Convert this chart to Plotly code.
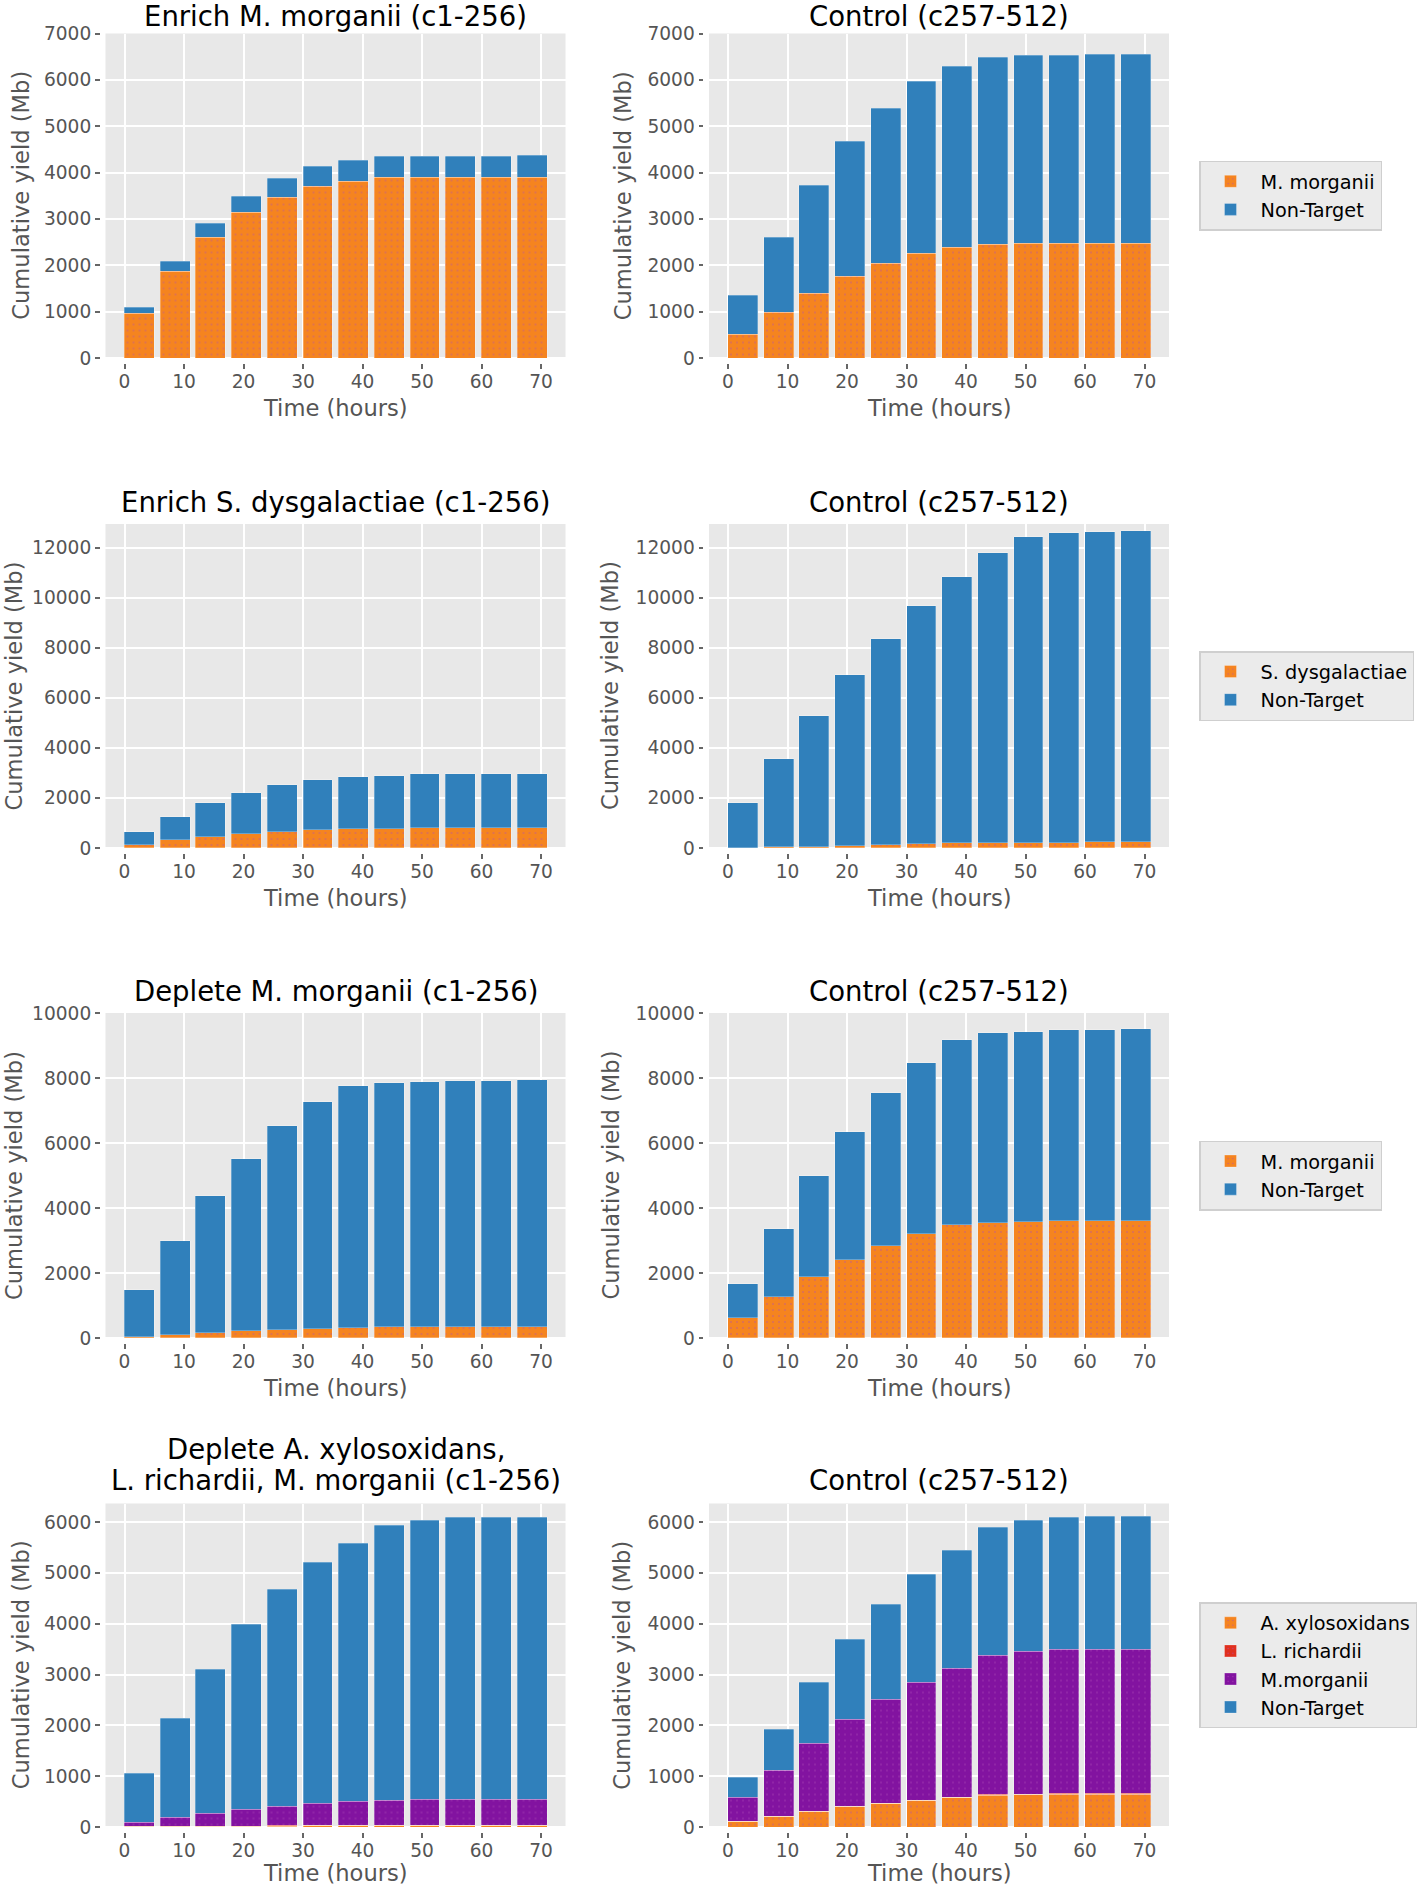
import plotly.graph_objects as go

W, H = 1418, 1887

# ---------------- data ----------------
hours = [0, 6, 12, 18, 24, 30, 36, 42, 48, 54, 60, 66]
x_ticks = [0, 10, 20, 30, 40, 50, 60, 70]

# Row 1: Enrich M. morganii (c1-256) / Control (c257-512)
enrich_mm_target = [970, 1870, 2610, 3140, 3460, 3710, 3810, 3890, 3890, 3890, 3890, 3900]
enrich_mm_nontarget = [110, 210, 300, 350, 420, 430, 440, 450, 460, 465, 465, 460]
enrich_mm_ctrl_target = [500, 980, 1400, 1760, 2030, 2245, 2375, 2450, 2465, 2470, 2480, 2480]
enrich_mm_ctrl_nontarget = [855, 1630, 2330, 2905, 3360, 3720, 3920, 4035, 4055, 4060, 4065, 4075]

# Row 2: Enrich S. dysgalactiae (c1-256) / Control (c257-512)
enrich_sd_target = [135, 310, 455, 575, 655, 710, 750, 775, 790, 790, 790, 790]
enrich_sd_nontarget = [495, 920, 1325, 1620, 1875, 1990, 2075, 2100, 2155, 2180, 2180, 2180]
enrich_sd_ctrl_target = [10, 25, 50, 90, 125, 155, 185, 200, 210, 220, 225, 230]
enrich_sd_ctrl_nontarget = [1790, 3520, 5215, 6805, 8220, 9510, 10640, 11575, 12220, 12370, 12405, 12460]

# Row 3: Deplete M. morganii (c1-256) / Control (c257-512)
deplete_mm_target = [30, 80, 155, 205, 240, 290, 310, 330, 330, 330, 330, 330]
deplete_mm_nontarget = [1460, 2905, 4205, 5300, 6270, 6965, 7435, 7520, 7560, 7570, 7590, 7600]
deplete_mm_ctrl_target = [605, 1265, 1870, 2395, 2840, 3200, 3475, 3550, 3580, 3600, 3610, 3610]
deplete_mm_ctrl_nontarget = [1070, 2080, 3100, 3940, 4700, 5265, 5690, 5820, 5845, 5865, 5875, 5895]

# Row 4: Deplete A. xylosoxidans, L. richardii, M. morganii (c1-256) / Control (c257-512)
deplete3_axyl = [5, 8, 10, 12, 18, 22, 25, 28, 28, 28, 28, 28]
deplete3_lrich = [2, 3, 4, 5, 6, 7, 8, 9, 9, 9, 9, 9]
deplete3_mmorg = [78, 172, 254, 330, 382, 429, 464, 487, 500, 500, 500, 506]
deplete3_nontarget = [962, 1944, 2828, 3632, 4260, 4751, 5085, 5418, 5497, 5543, 5556, 5556]
deplete3_ctrl_axyl = [105, 203, 302, 394, 459, 518, 577, 623, 636, 643, 643, 643]
deplete3_ctrl_lrich = [3, 5, 6, 8, 9, 10, 11, 12, 12, 12, 12, 12]
deplete3_ctrl_mmorg = [463, 907, 1332, 1717, 2039, 2313, 2529, 2744, 2803, 2829, 2842, 2842]
deplete3_ctrl_nontarget = [394, 808, 1201, 1575, 1870, 2126, 2329, 2520, 2579, 2605, 2605, 2618]

left_titles = ["Enrich M. morganii (c1-256)", "Enrich S. dysgalactiae (c1-256)",
               "Deplete M. morganii (c1-256)",
               ["Deplete A. xylosoxidans,", "L. richardii, M. morganii (c1-256)"]]
right_title = "Control (c257-512)"
x_label = "Time (hours)"
y_label = "Cumulative yield (Mb)"

y_max = [7000, 12950, 10000, 6365]
y_ticks = [list(range(0, 7001, 1000)), list(range(0, 12001, 2000)),
           list(range(0, 10001, 2000)), list(range(0, 6001, 1000))]

# ---------------- style ----------------
FONT = "DejaVu Sans"
C_ORANGE = "#f5841f"
C_BLUE = "#3080bb"
C_PURPLE = "#8213a0"
C_RED = "#e0301e"
BG = "#e8e8e8"
GRAY_TXT = "#555555"
TITLE_SIZE = 27.5

col_px = [(105.5, 565.5), (709.0, 1169.0)]
row_px = [(33.5, 358.0), (524.0, 848.0), (1013.0, 1338.0), (1503.5, 1827.0)]
X_LO, X_HI = -3.2, 74.1
GAP = 5.0

rows = [
    [[("M. morganii", enrich_mm_target, C_ORANGE, True),
      ("Non-Target", enrich_mm_nontarget, C_BLUE, False)],
     [("M. morganii", enrich_mm_ctrl_target, C_ORANGE, True),
      ("Non-Target", enrich_mm_ctrl_nontarget, C_BLUE, False)]],
    [[("S. dysgalactiae", enrich_sd_target, C_ORANGE, True),
      ("Non-Target", enrich_sd_nontarget, C_BLUE, False)],
     [("S. dysgalactiae", enrich_sd_ctrl_target, C_ORANGE, True),
      ("Non-Target", enrich_sd_ctrl_nontarget, C_BLUE, False)]],
    [[("M. morganii", deplete_mm_target, C_ORANGE, True),
      ("Non-Target", deplete_mm_nontarget, C_BLUE, False)],
     [("M. morganii", deplete_mm_ctrl_target, C_ORANGE, True),
      ("Non-Target", deplete_mm_ctrl_nontarget, C_BLUE, False)]],
    [[("A. xylosoxidans", deplete3_axyl, C_ORANGE, True),
      ("L. richardii", deplete3_lrich, C_RED, True),
      ("M.morganii", deplete3_mmorg, C_PURPLE, True),
      ("Non-Target", deplete3_nontarget, C_BLUE, False)],
     [("A. xylosoxidans", deplete3_ctrl_axyl, C_ORANGE, True),
      ("L. richardii", deplete3_ctrl_lrich, C_RED, True),
      ("M.morganii", deplete3_ctrl_mmorg, C_PURPLE, True),
      ("Non-Target", deplete3_ctrl_nontarget, C_BLUE, False)]],
]
legend_ids = ["legend", "legend2", "legend3", "legend4"]


def fx(p):
    return p / W


def fy(p):
    return 1 - p / H


def text_ann(text, x, y, size, color, angle=0):
    return dict(text=text, x=fx(x), y=fy(y), xref="paper", yref="paper",
                xanchor="center", yanchor="middle", textangle=angle, showarrow=False,
                font=dict(family=FONT, size=size, color=color))


fig = go.Figure()
layout = {}
shapes = []
annotations = []

for r in range(4):
    gt, gb = row_px[r]
    for c in range(2):
        k = r * 2 + c + 1
        gx0, gx1 = col_px[c]
        xs = "" if k == 1 else str(k)
        pxh = (gx1 - gx0) / (X_HI - X_LO)
        x_ext = X_LO - GAP / pxh
        y_ext = -GAP * y_max[r] / (gb - gt)
        axis_common = dict(
            showgrid=True, gridcolor="white", gridwidth=2,
            zeroline=False, showline=False, automargin=False,
            ticks="outside", ticklen=4.5, tickwidth=2, tickcolor="#666666",
            tickfont=dict(family=FONT, size=18.6, color=GRAY_TXT),
            tickformat="d", fixedrange=True,
        )
        layout["xaxis" + xs] = dict(
            domain=[fx(gx0 - GAP), fx(gx1)], range=[x_ext, X_HI],
            anchor="y" + xs, tickmode="array", tickvals=x_ticks,
            ticklabelstandoff=-3, **axis_common)
        layout["yaxis" + xs] = dict(
            domain=[fy(gb + GAP), fy(gt)], range=[y_ext, y_max[r]],
            anchor="x" + xs, tickmode="array", tickvals=y_ticks[r], **axis_common)

        shapes.append(dict(type="rect", xref="paper", yref="paper", layer="below",
                           x0=fx(gx0), x1=fx(gx1), y0=fy(gb), y1=fy(gt),
                           fillcolor=BG, line=dict(width=0)))

        for j, (name, vals, color, patterned) in enumerate(rows[r][c]):
            marker = dict(color=color, line=dict(color="rgba(255,255,255,0.35)", width=0.8))
            if patterned:
                marker["pattern"] = dict(shape=".", fgcolor="#b04cb8", fgopacity=0.7,
                                         size=6, solidity=0.06, fillmode="overlay")
            fig.add_trace(go.Bar(
                x=hours, y=vals, width=5, offset=0, name=name,
                marker=marker, xaxis="x" + xs, yaxis="y" + xs,
                legend=legend_ids[r], showlegend=(c == 1),
                legendgroup=f"r{r}s{j}",
            ))

        cx = (gx0 + gx1) / 2
        title_y = 16 if r == 0 else gt - 22
        if c == 1:
            annotations.append(text_ann(right_title, cx, gt - 24 if r == 3 else title_y,
                                        TITLE_SIZE, "#000000"))
        else:
            t = left_titles[r]
            if isinstance(t, list):
                for li, line in enumerate(t):
                    annotations.append(text_ann(line, cx, gt - 55 + 31 * li,
                                                TITLE_SIZE, "#000000"))
            else:
                annotations.append(text_ann(t, cx, title_y, TITLE_SIZE, "#000000"))
        # x-axis title
        annotations.append(text_ann(x_label, cx, min(gb + 50, H - 13.6), 22.6, GRAY_TXT))
        # y-axis title
        wide = r in (1, 2)
        ylx = (13.5 if wide else 21) if c == 0 else (610 if wide else 622.5)
        annotations.append(text_ann(y_label, ylx, (gt + gb) / 2, 22.6, GRAY_TXT, -90))

    # legend for this row
    layout[legend_ids[r]] = dict(
        x=fx(1199), y=fy((gt + gb) / 2), xanchor="left", yanchor="middle",
        bgcolor="#ebebeb", bordercolor="#cfcfcf", borderwidth=1.5,
        font=dict(family=FONT, size=19.3, color="#000000"),
        traceorder="normal", tracegroupgap=2, itemwidth=50,
    )

fig.update_layout(
    template="none",
    width=W, height=H, margin=dict(l=0, r=0, t=0, b=0, autoexpand=False),
    paper_bgcolor="white", plot_bgcolor="rgba(0,0,0,0)",
    barmode="stack", bargap=0,
    shapes=shapes, annotations=annotations,
    font=dict(family=FONT),
    **layout,
)

fig.write_html("out.html", config={"displayModeBar": False},
               post_script="document.body.style.margin='0px';")
